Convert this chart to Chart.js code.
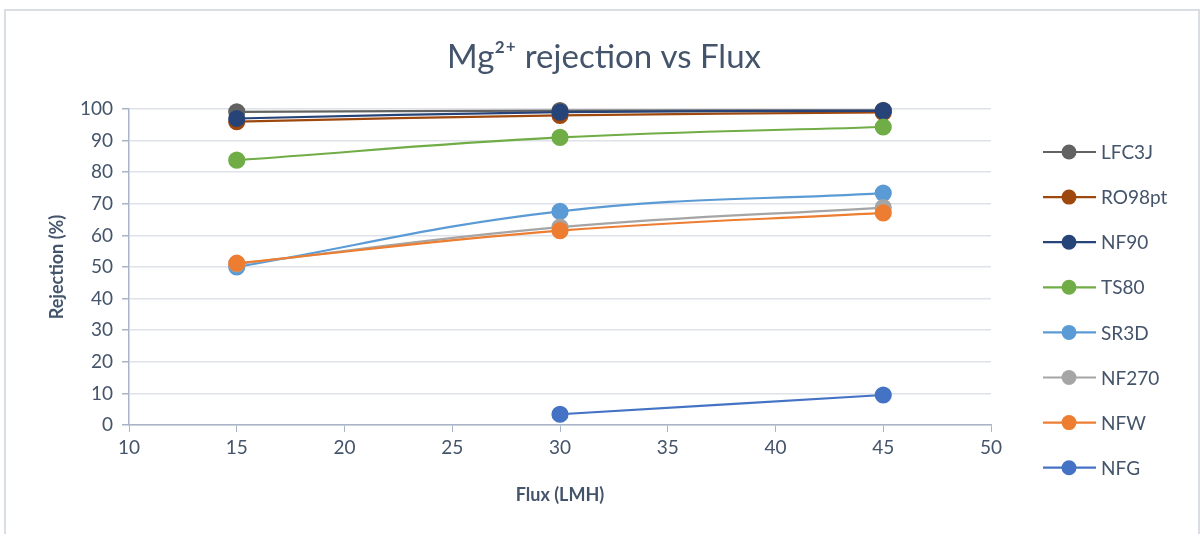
<!DOCTYPE html>
<html>
<head>
<meta charset="utf-8">
<script src="https://cdn.jsdelivr.net/npm/chart.js@4.4.0/dist/chart.umd.min.js"></script>
<style>
  html, body { margin: 0; padding: 0; background: #fff; }
  #wrap { width: 1203px; height: 534px; }
</style>
</head>
<body>
<div id="wrap"><canvas id="mgChart" width="1203" height="534"></canvas></div>
<script>
// flux points (LMH)
const flux = [15, 30, 45];
const membranes = ['LFC3J', 'RO98pt', 'NF90', 'TS80', 'SR3D', 'NF270', 'NFW', 'NFG'];

// rejection (%)
const lfc3j  = [99.1, 99.5, 99.6];
const ro98pt = [96.0, 98.0, 98.9];
const nf90   = [97.0, 99.0, 99.4];
const ts80   = [83.8, 91.0, 94.3];
const sr3d   = [50.0, 67.6, 73.4];
const nf270  = [51.0, 62.6, 68.8];
const nfw    = [51.2, 61.5, 67.1];
const nfg    = [null, 3.4, 9.5];

const colors = ['#626262', '#9e480e', '#264478', '#70ad47', '#5b9bd5', '#a5a5a5', '#ed7d31', '#4472c4'];
const series = [lfc3j, ro98pt, nf90, ts80, sr3d, nf270, nfw, nfg];

const titleText = 'Mg²⁺ rejection vs Flux';
const textColor = '#44546a';
const fontFam = 'Lato, "Open Sans", sans-serif';

const datasets = membranes.map((name, i) => ({
  label: name,
  data: flux.map((f, j) => ({ x: f, y: series[i][j] })),
  borderColor: colors[i],
  backgroundColor: colors[i],
  pointBackgroundColor: colors[i],
  pointBorderColor: colors[i],
  pointRadius: 7.5,
  pointHoverRadius: 7.5,
  borderWidth: 2.2,
  tension: 0.4,
  spanGaps: false,
  clip: false,
  order: membranes.length - i // later series on top like Excel
}));

// frame + title, centred on the whole picture
const framePlugin = {
  id: 'frame',
  beforeDraw(chart) {
    const ctx = chart.ctx;
    ctx.save();
    ctx.strokeStyle = '#d9dde4';
    ctx.lineWidth = 2;
    ctx.strokeRect(5, 10, 1194, 540);
    ctx.fillStyle = textColor;
    ctx.font = '33px ' + fontFam;
    ctx.textAlign = 'center';
    ctx.textBaseline = 'middle';
    ctx.fillText(titleText, 604, 57);
    ctx.restore();
  }
};

// legend drawn as line + marker
const lineLegend = {
  id: 'lineLegend',
  afterDraw(chart) {
    const ctx = chart.ctx;
    ctx.save();
    chart.data.datasets.forEach((ds, i) => {
      const y = 152 + i * 45.1;
      ctx.strokeStyle = ds.borderColor;
      ctx.lineWidth = 2.2;
      ctx.beginPath();
      ctx.moveTo(1043, y);
      ctx.lineTo(1096, y);
      ctx.stroke();
      ctx.fillStyle = ds.borderColor;
      ctx.beginPath();
      ctx.arc(1069, y, 7.5, 0, Math.PI * 2);
      ctx.fill();
      ctx.fillStyle = textColor;
      ctx.font = '19px ' + fontFam;
      ctx.textBaseline = 'middle';
      ctx.textAlign = 'left';
      ctx.fillText(ds.label, 1101, y + 1);
    });
    ctx.restore();
  }
};

const ctx = document.getElementById('mgChart').getContext('2d');
new Chart(ctx, {
  type: 'line',
  data: { datasets: datasets },
  plugins: [framePlugin, lineLegend],
  options: {
    responsive: false,
    animation: false,
    layout: { padding: { left: 10, right: 212, top: 109, bottom: 20 } },
    plugins: {
      legend: { display: false },
      tooltip: { enabled: false },
      title: { display: false }
    },
    scales: {
      x: {
        type: 'linear',
        min: 10,
        max: 50,
        ticks: { stepSize: 5, color: textColor, font: { family: fontFam, size: 19 }, padding: 4 },
        grid: { drawOnChartArea: false, tickLength: 7, tickColor: '#a9b4c6' },
        border: { color: '#a9b4c6', width: 1.5 },
        title: {
          display: true,
          text: 'Flux (LMH)',
          color: textColor,
          font: { family: fontFam, size: 18, weight: 'bold' },
          padding: { top: 0, bottom: 8 }
        },
        afterFit(scale) { scale.height = 89; }
      },
      y: {
        min: 0,
        max: 100,
        ticks: { stepSize: 10, color: textColor, font: { family: fontFam, size: 19 }, padding: 9 },
        grid: { color: '#dfe2e8', lineWidth: 1.5, tickLength: 7, tickColor: '#a9b4c6' },
        border: { color: '#a9b4c6', width: 1.5 },
        title: {
          display: true,
          text: 'Rejection (%)',
          color: textColor,
          font: { family: fontFam, size: 18, weight: 'bold' },
          padding: { top: 36, bottom: 0 }
        },
        afterFit(scale) { scale.width = 119; }
      }
    }
  }
});
</script>
</body>
</html>
